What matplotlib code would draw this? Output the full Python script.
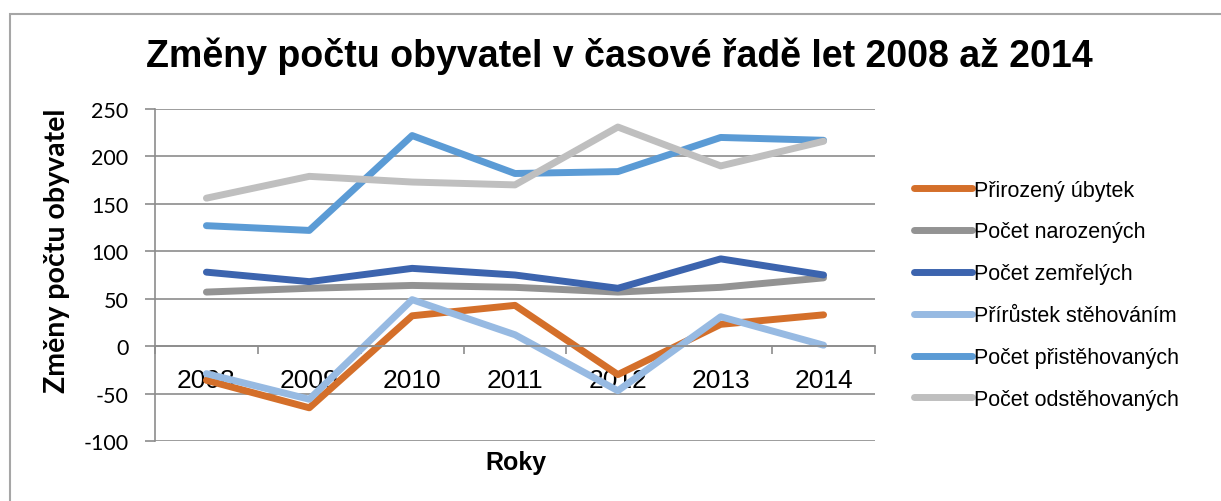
import matplotlib
matplotlib.use("Agg")
import matplotlib.pyplot as plt
from matplotlib.patches import Rectangle

# data
years = ["2008", "2009", "2010", "2011", "2012", "2013", "2014"]
prirozeny_ubytek = [-36, -65, 32, 43, -30, 23, 33]
pocet_narozenych = [57, 61, 64, 62, 57, 62, 72]
pocet_zemrelych = [78, 68, 82, 75, 61, 92, 75]
prirustek_stehovanim = [-29, -56, 49, 12, -47, 31, 1]
pocet_pristehovanych = [127, 122, 222, 182, 184, 220, 217]
pocet_odstehovanych = [156, 179, 173, 170, 231, 190, 216]

series_names = ["Přirozený úbytek", "Počet narozených", "Počet zemřelých",
                "Přírůstek stěhováním", "Počet přistěhovaných", "Počet odstěhovaných"]
series_values = [prirozeny_ubytek, pocet_narozenych, pocet_zemrelych,
                 prirustek_stehovanim, pocet_pristehovanych, pocet_odstehovanych]
colors = ["#D46F2A", "#939393", "#3C64AE", "#97BAE2", "#5B9BD5", "#BFBFBF"]

y_ticks = [-100, -50, 0, 50, 100, 150, 200, 250]

ARIAL = "Liberation Sans"
CALIBRI = "Lato"
GRID = "#8C8C8C"

fig = plt.figure(figsize=(12.21, 5.02), dpi=100)
# chart frame (only its top and left edges fall inside the image)
fig.patches.append(Rectangle((10 / 1221, -0.1), 1.2, (502 - 15) / 502 + 0.1,
                             transform=fig.transFigure, fill=False,
                             edgecolor="#A6A6A6", linewidth=1.5))

ax = fig.add_axes([155 / 1221, (502 - 442) / 502, 720 / 1221, 332 / 502])

x = list(range(len(years)))
for name, vals, c in zip(series_names, series_values, colors):
    ax.plot(x, vals, color=c, linewidth=5, label=name,
            solid_capstyle="round", solid_joinstyle="round")

ax.set_xlim(-0.5, len(years) - 0.5)
ax.set_ylim(-100, 250)
ax.set_yticks(y_ticks)
ax.set_yticklabels([str(v) for v in y_ticks], fontfamily=CALIBRI, fontsize=15.5)
ax.yaxis.grid(True, color=GRID, linewidth=1.2)
ax.set_axisbelow(True)

for s in ["top", "right"]:
    ax.spines[s].set_visible(False)
ax.spines["left"].set_color(GRID)
ax.spines["left"].set_linewidth(1.2)
ax.spines["bottom"].set_position(("data", 0))
ax.spines["bottom"].set_color(GRID)
ax.spines["bottom"].set_linewidth(1.2)

ax.tick_params(axis="y", length=7, color=GRID, width=1.2, pad=12)
ax.set_xticks(x)
ax.set_xticklabels(years, fontfamily=ARIAL, fontsize=19)
ax.set_xticks([i - 0.5 for i in range(len(years) + 1)], minor=True)
ax.tick_params(axis="x", which="major", length=0, pad=16)
ax.tick_params(axis="x", which="minor", length=6, color=GRID, width=1.2)

fig.text(516 / 1221, 1 - 463 / 502, "Roky", fontfamily=ARIAL, fontweight="bold",
         fontsize=18, ha="center", va="center")
fig.text(57 / 1221, 1 - 251 / 502, "Změny počtu obyvatel", fontfamily=CALIBRI,
         fontweight="bold", fontsize=20.5, rotation=90, ha="center", va="center")
fig.text(619 / 1221, 1 - 56 / 502, "Změny počtu obyvatel v časové řadě let 2008 až 2014",
         fontfamily=ARIAL, fontweight="bold", fontsize=27, ha="center", va="center")

ax.legend(loc="upper left", bbox_to_anchor=(905 / 1221, 1 - 172 / 502),
          bbox_transform=fig.transFigure, frameon=False,
          prop={"family": ARIAL, "size": 15.5}, handlelength=2.7,
          handletextpad=0.12, labelspacing=0.97, borderaxespad=0)

fig.savefig("out.png", dpi=100)
